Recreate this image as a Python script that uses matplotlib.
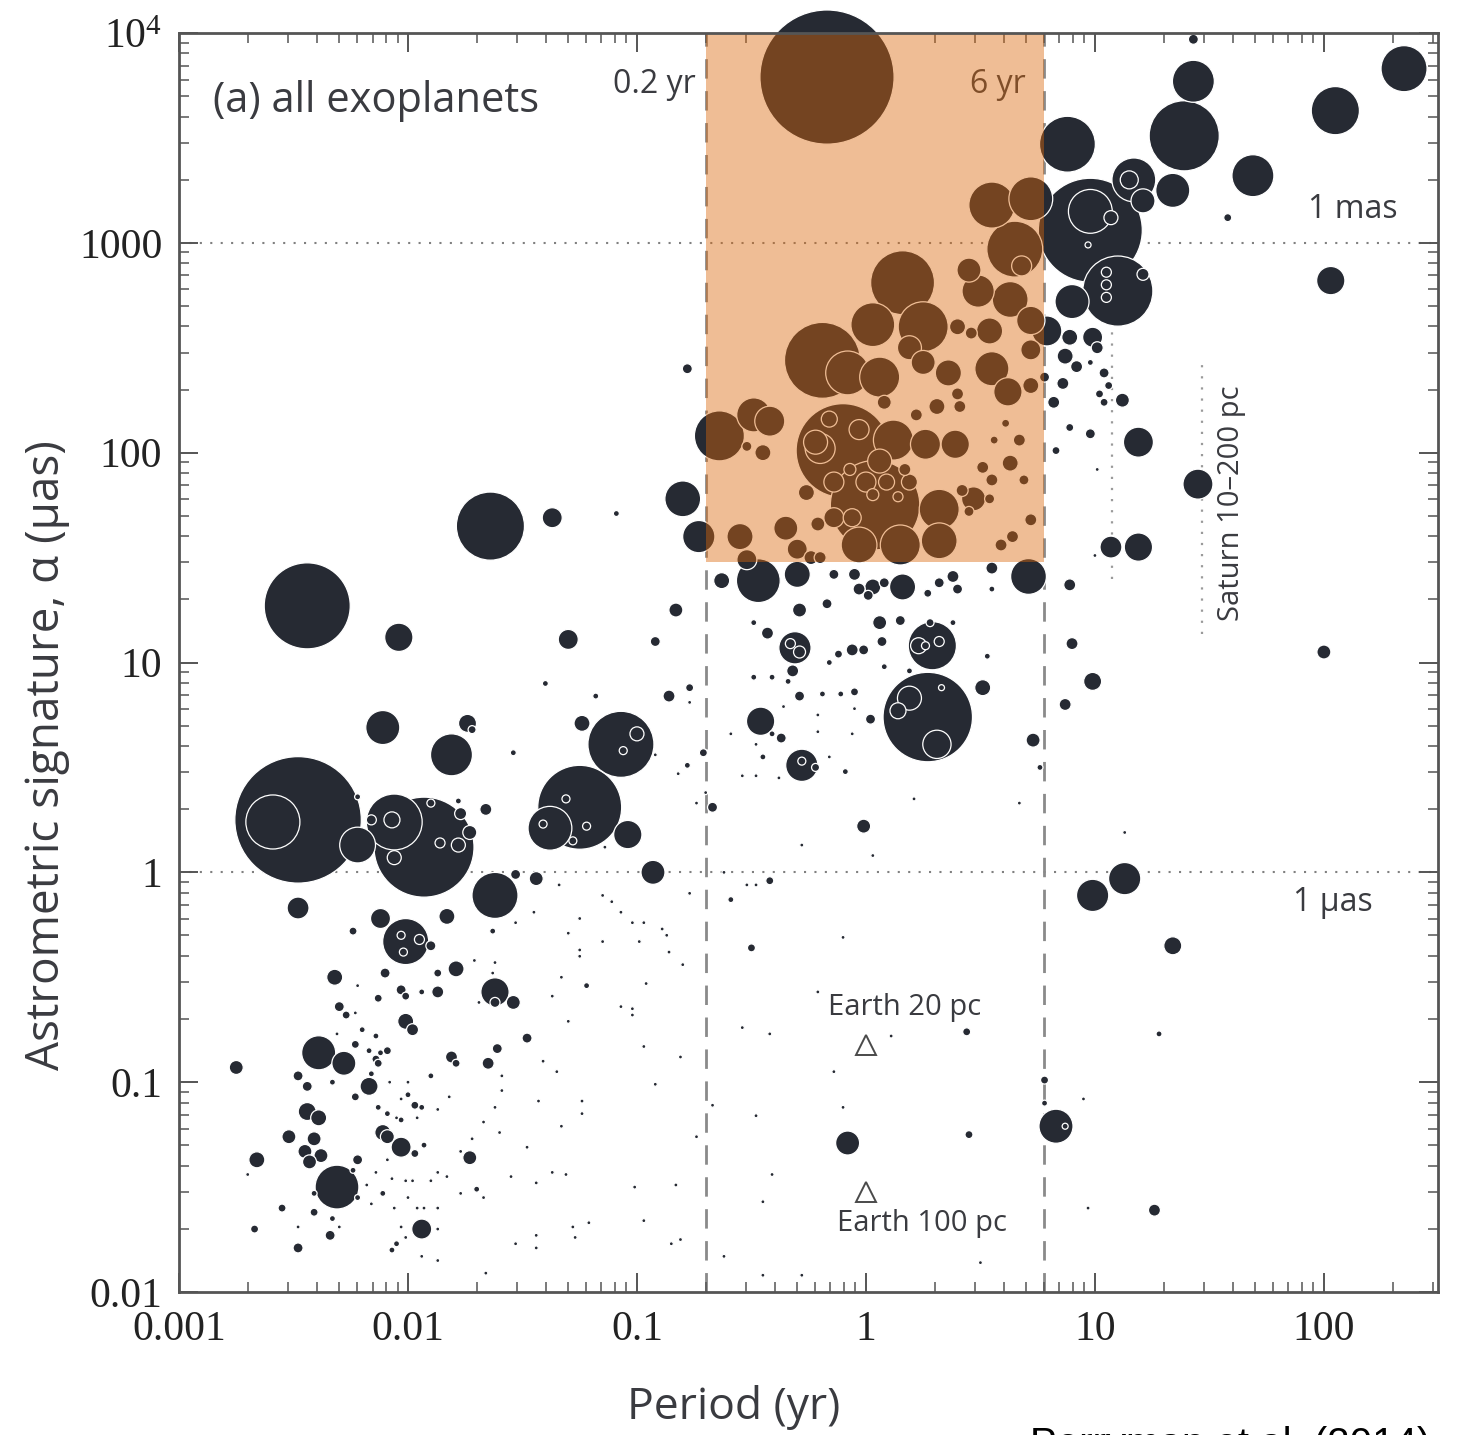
import numpy as np
import matplotlib.pyplot as plt
from matplotlib.patches import Rectangle
from matplotlib.ticker import FixedLocator, FixedFormatter, LogLocator, NullFormatter

plt.rcParams['mathtext.fontset'] = 'custom'
plt.rcParams['mathtext.rm'] = 'Liberation Serif'

# log10 period [yr], log10 astrometric signature [uas], planet mass [M_J]
# short-period planets (P < ~0.1 yr)
short_logp = [-2.48, -2.59, -2.44, -2.04, -1.64, -1.37, -1.30, -1.40, -1.18, -2.11,
              -1.74, -1.72, -1.81, -1.54, -1.24, -1.07, -1.00, -1.06, -2.22, -2.22,
              -2.06, -2.07, -2.16, -1.93, -2.06, -1.78, -1.77, -1.73, -1.78, -1.86,
              -1.90, -1.66, -1.25, -1.38, -1.31, -1.22, -1.28, -1.41, -1.04, -0.93,
              -2.48, -2.12, -2.01, -2.03, -1.95, -2.02, -1.90, -2.24, -1.62, -1.83,
              -1.53, -1.44, -1.34, -1.15, -1.45, -1.53, -1.63, -1.25, -1.30, -1.15,
              -1.25, -2.32, -2.10, -1.79, -1.87, -1.71, -1.62, -1.63, -2.22, -2.03,
              -2.01, -1.87, -2.13, -2.30, -2.27, -2.23, -1.94, -2.01, -1.98, -1.62,
              -1.62, -1.54, -1.69, -1.37, -1.48, -1.33, -1.30, -1.22, -1.25, -2.31,
              -2.20, -2.23, -2.14, -2.39, -2.28, -2.75, -2.48, -2.44, -2.33, -2.23,
              -2.17, -2.14, -2.17, -2.12, -2.13, -2.16, -2.09, -2.08, -2.00, -2.03,
              -1.97, -2.00, -1.94, -2.13, -2.09, -2.05, -2.03, -1.96, -1.87, -2.44,
              -2.39, -2.52, -2.41, -2.66, -2.45, -2.38, -2.43, -2.11, -2.09, -2.03,
              -1.97, -1.93, -2.09, -2.22, -2.70, -2.31, -2.24, -2.22, -2.41, -2.18,
              -2.14, -2.07, -2.01, -1.98, -1.90, -1.87, -1.83, -2.11, -2.16, -2.00,
              -1.96, -1.93, -2.06, -1.87, -2.55, -2.41, -2.67, -2.48, -2.48, -2.33,
              -2.34, -2.30, -1.94, -2.01, -2.05, -2.07, -1.94, -1.87, -2.03, -1.87,
              -1.41, -1.35, -1.43, -1.24, -1.24, -1.33, -1.48, -1.60, -1.59, -1.59,
              -1.62, -1.67, -1.72, -1.73, -1.77, -1.65, -1.61, -1.81, -1.79, -1.82,
              -1.90, -1.77, -1.70, -1.67, -1.55, -1.44, -1.37, -1.31, -1.53, -1.44,
              -1.44, -1.28, -1.27, -1.21, -1.66]
short_loga = [0.25, 0.24, 1.27, 1.12, 1.65, 1.69, 1.11, 0.90, 0.84, 0.69,
              0.71, 0.68, 0.56, 0.57, 0.71, 0.61, 0.66, 0.58, 0.13, 0.36,
              0.24, 0.25, 0.25, 0.12, 0.07, 0.34, 0.28, 0.19, 0.13, 0.14,
              0.33, 0.30, 0.31, 0.21, 0.35, 0.22, 0.15, 0.23, 0.18, 0.00,
              -0.17, -0.22, -0.33, -0.30, -0.32, -0.38, -0.35, -0.28, -0.11, -0.21,
              -0.01, -0.03, -0.06, -0.11, -0.19, -0.24, -0.28, -0.22, -0.29, -0.33,
              -0.40, -0.50, -0.48, -0.46, -0.48, -0.42, -0.43, -0.48, -0.54, -0.56,
              -0.59, -0.57, -0.60, -0.64, -0.68, -0.67, -0.57, -0.71, -0.75, -0.57,
              -0.62, -0.62, -0.62, -0.59, -0.79, -0.50, -0.71, -0.54, -0.37, -0.77,
              -0.75, -0.82, -0.78, -0.86, -0.91, -0.93, -0.97, -1.02, -1.00, -1.07,
              -1.02, -0.89, -0.85, -0.86, -0.91, -0.96, -0.85, -1.00, -1.00, -1.08,
              -1.11, -1.06, -1.12, -1.12, -1.15, -1.17, -1.18, -1.17, -1.13, -1.14,
              -1.17, -1.26, -1.27, -1.37, -1.33, -1.35, -1.38, -1.24, -1.26, -1.31,
              -1.34, -1.30, -1.37, -1.37, -1.44, -1.50, -1.42, -1.55, -1.53, -1.49,
              -1.43, -1.46, -1.47, -1.47, -1.47, -1.43, -1.45, -1.53, -1.58, -1.55,
              -1.60, -1.60, -1.60, -1.60, -1.60, -1.62, -1.70, -1.69, -1.79, -1.65,
              -1.73, -1.69, -1.70, -1.74, -1.77, -1.80, -1.83, -1.85, -1.69, -1.70,
              -0.90, -0.95, -1.09, -1.09, -1.15, -1.21, -1.31, -1.24, -1.04, -0.97,
              -1.12, -1.19, -1.27, -1.36, -1.33, -0.91, -0.84, -0.88, -0.91, -1.07,
              -0.97, -1.53, -1.51, -1.55, -1.45, -1.48, -1.43, -1.44, -1.77, -1.73,
              -1.79, -1.69, -1.74, -1.67, -1.91]
short_mass = [40, 7.3, 18.5, 2.0, 11.6, 1.0, 1.0, .09, .09, 2.9,
              .81, .16, 4.4, .09, .64, 10.9, .49, .16, 3.2, .09,
              7.8, .64, .25, 25, .49, .09, .36, .49, .49, .25,
              .16, .36, 17.6, 4.8, .16, .16, .16, .16, 2.0, 1.44,
              1.2, 1.0, 5.3, .16, .25, .16, .25, .16, 5.3, .64,
              .25, .49, .04, .04, .04, .04, .09, .04, .04, .04,
              .04, .64, .25, .64, .16, .04, .04, .04, .04, .25,
              .16, .36, .16, .25, .16, .04, .09, .64, .36, 2.0,
              .25, .49, .04, .04, .25, .04, .04, .09, .04, .04,
              .09, .16, .09, 2.9, 1.44, .49, .25, .25, .09, .16,
              .81, .16, .09, .09, .16, .09, .16, .04, .04, .04,
              .16, .09, .09, .09, .09, .04, .09, .04, .04, .81,
              .64, .49, .49, .64, .49, .49, .49, .64, .49, 1.0,
              .16, .09, .04, .25, .04, 4.8, .09, .09, .09, .04,
              .04, .04, .04, .04, .04, .04, .04, .09, .04, .04,
              .04, .04, .04, .04, .16, .16, .16, .04, .25, .09,
              .25, .04, 1.0, .04, .09, .09, .04, .04, .04, .04,
              .04, .04, .04, .04, .04, .04, .04, .04, .04, .04,
              .04, .04, .04, .49, .04, .36, .25, .36, .16, .04,
              .09, .04, .09, .04, .04, .04, .04, .04, .04, .04,
              .04, .04, .04, .04, .04]

# intermediate periods, outside the 0.2-6 yr / >30 uas window
mid_logp = [-1.11, -1.07, -1.02, -0.97, -0.89, -0.87, -0.86, -0.80, -0.77, -1.15,
            -0.99, -0.96, -1.07, -1.02, -1.02, -0.97, -0.81, -0.92, -0.74, -1.01,
            -0.83, -0.97, -0.85, -0.81, -1.09, -0.80, -0.73, -0.78, -0.83, -0.92,
            -0.86, -0.77, -0.77, -0.78, -0.82, -0.92, -0.71, -0.70, -0.74, -0.67,
            -1.14, -0.63, -0.47, -0.30, -0.14, 0.16, 0.03, -0.03, 0.08, 0.01,
            -0.05, 0.71, 0.32, 0.38, 0.40, 0.27, 0.55, 0.55, -0.29, -0.17,
            -0.49, -0.43, -0.31, -0.33, -0.29, 0.06, 0.15, 0.07, 0.28, 0.38,
            0.29, 0.23, 0.26, 0.32, -0.06, -0.01, -0.12, -0.16, -0.32, -0.49,
            -0.41, -0.34, 0.08, 0.19, 0.53, 0.51, 0.27, 0.19, 0.14, 0.31,
            0.33, -0.05, -0.19, -0.29, -0.11, -0.46, -0.37, -0.41, -0.36, -0.21,
            -0.05, 0.02, -0.21, -0.06, -0.59, -0.48, -0.28, -0.28, -0.22, -0.45,
            -0.16, -0.09, -0.54, -0.48, -0.38, 0.21, -0.01, -0.28, 0.03, 0.67,
            0.73, 0.76, -0.62, -0.52, -0.48, -0.42, -0.59, -0.50, -0.10, -0.21,
            -0.54, -0.42, 0.11, 0.44, -0.14, -0.67, -0.48, -0.10, -0.08, 0.45,
            -0.41, -0.45, -0.62, 0.50, -0.45, -0.28]
mid_loga = [-0.14, -0.19, -0.24, -0.24, -0.27, -0.30, -0.38, -0.44, -0.10, -0.33,
            -0.33, -0.53, -0.64, -0.65, -0.68, -0.83, -0.88, -1.01, -1.26, -1.50,
            -1.49, -1.66, -1.77, -1.75, 1.71, 1.78, 1.60, 2.40, 1.25, 1.10,
            0.84, 0.88, 0.81, 0.51, 0.47, 0.56, 0.57, 0.38, 0.33, 0.31,
            0.12, 1.39, 1.39, 1.42, 1.42, 1.36, 1.36, 1.35, 1.38, 1.32,
            1.42, 1.41, 1.38, 1.41, 1.35, 1.33, 1.35, 1.45, 1.25, 1.28,
            1.19, 1.14, 1.07, 1.09, 1.05, 1.19, 1.20, 1.10, 1.19, 1.19,
            1.08, 1.08, 1.08, 1.10, 1.06, 1.06, 1.04, 1.00, 0.96, 0.93,
            0.93, 0.91, 0.98, 0.96, 1.03, 0.88, 0.74, 0.83, 0.77, 0.61,
            0.88, 0.86, 0.85, 0.84, 0.85, 0.72, 0.64, 0.66, 0.79, 0.75,
            0.78, 0.73, 0.67, 0.66, 0.66, 0.61, 0.51, 0.53, 0.50, 0.55,
            0.55, 0.48, 0.46, 0.46, 0.45, 0.35, 0.22, 0.13, 0.08, 0.33,
            0.63, 0.50, 0.00, -0.06, -0.06, -0.04, -0.13, -0.36, -0.31, -0.57,
            -0.74, -0.77, -0.78, -0.76, -0.95, -1.11, -1.16, -1.12, -1.29, -1.25,
            -1.44, -1.57, -1.83, -1.86, -1.92, -1.92]
mid_mass = [.04, .04, .04, .04, .04, .04, .04, .04, .04, .04,
            .04, .04, .04, .04, .04, .04, .04, .04, .04, .04,
            .04, .04, .04, .04, .09, 3.2, 2.6, .25, .49, .25,
            .36, .16, .04, .09, .04, .04, .16, .04, .04, .25,
            .04, .64, 4.8, 1.7, .25, 1.7, .64, .36, .25, .25,
            .36, 3.2, .25, .36, .25, .16, .09, .36, .49, .25,
            .09, .36, 2.6, .25, .36, .49, .25, .25, .16, .09,
            5.8, .64, .16, .25, .36, .25, .16, .09, .36, .09,
            .09, .09, .09, .09, .09, .64, 20, 1.44, .64, 2.0,
            .09, .16, .09, .25, .09, 2.0, .25, .09, .04, .04,
            .04, .25, .04, .04, .04, .04, 2.6, .16, .16, .09,
            .04, .09, .04, .04, .04, .04, .49, .04, .04, .04,
            .49, .09, .04, .04, .04, .16, .09, .16, .04, .04,
            .04, .04, .04, .16, .04, .04, .04, .04, 1.44, .16,
            .04, .04, .04, .04, .04, .04]

# inside the 0.2-6 yr window above 30 uas
box_logp = [-0.17, 0.55, 0.72, 0.65, 0.68, 0.16, 0.45, 0.49, 0.63, 0.72,
            -0.19, 0.03, 0.25, -0.64, -0.49, -0.42, -0.55, -0.35, -0.21, -0.52,
            -0.08, 0.06, 0.19, 0.25, 0.36, 0.40, 0.46, 0.54, 0.55, 0.62,
            0.08, 0.40, 0.41, 0.31, 0.22, 0.61, 0.56, -0.22, -0.52, -0.45,
            -0.20, -0.14, -0.26, -0.30, -0.24, -0.20, -0.14, -0.06, 0.00, 0.09,
            0.03, 0.14, 0.19, 0.32, 0.32, 0.47, 0.51, 0.55, 0.54, 0.42,
            0.45, 0.63, 0.64, 0.72, 0.59, 0.69, 0.67, -0.10, 0.04, 0.15,
            -0.03, 0.12, 0.26, -0.16, -0.03, -0.07, 0.06, 0.17, 0.39, 0.72,
            0.72]
box_loga = [3.79, 3.18, 3.21, 2.97, 2.89, 2.81, 2.87, 2.77, 2.73, 2.63,
            2.44, 2.61, 2.60, 2.08, 2.18, 2.15, 1.60, 1.64, 1.66, 1.49,
            2.38, 2.36, 2.50, 2.43, 2.38, 2.60, 2.57, 2.58, 2.40, 2.29,
            2.24, 2.28, 2.22, 2.22, 2.18, 2.14, 2.06, 2.05, 2.03, 2.00,
            2.02, 1.86, 1.81, 1.54, 1.50, 1.50, 1.69, 1.69, 1.86, 1.86,
            1.80, 1.79, 1.86, 1.73, 1.58, 1.78, 1.93, 1.87, 1.78, 1.82,
            1.72, 1.95, 1.60, 1.68, 1.56, 1.87, 2.06, 2.01, 1.75, 1.56,
            1.56, 2.06, 2.04, 2.16, 2.11, 1.92, 1.96, 1.92, 2.04, 2.49,
            2.32]
box_mass = [45, 5.3, 4.8, 7.8, 1.0, 10.2, 1.44, 2.6, 3.2, 2.0,
            14.4, 4.8, 6.25, 6.25, 2.9, 2.25, 1.7, 1.44, .49, 1.0,
            4.8, 4.0, 1.44, 1.44, 1.7, .64, .36, 1.7, 2.9, 2.0,
            .49, .36, .36, .64, .36, .16, .16, 1.44, .25, .64,
            2.25, 1.0, .64, 1.0, .49, .36, 1.0, .81, 1.0, .64,
            .36, .25, .64, 4.0, 3.2, 1.44, .36, .36, .25, .36,
            .25, .64, .36, .36, .36, .25, .36, 22, 20, 4.0,
            3.2, 4.0, 2.25, .64, 1.0, .36, 1.44, .36, 2.0, 1.0,
            .64]

# long-period planets (P > 6 yr)
long_logp = [1.43, 1.43, 1.39, 2.35, 2.05, 1.69, 1.34, 1.21, 1.17, 1.15,
             1.58, 2.03, 0.88, 0.98, 0.98, 1.07, 0.97, 1.10, 1.05, 1.05,
             1.05, 1.21, 0.90, 0.79, 0.89, 0.99, 1.01, 0.87, 0.92, 0.98,
             1.04, 1.06, 0.86, 0.78, 0.82, 1.02, 1.04, 1.12, 0.89, 0.98,
             1.19, 0.83, 1.45, 1.01, 1.07, 1.19, 1.00, 0.89, 0.90, 0.99,
             0.87, 1.13, 2.00, 0.99, 1.13, 1.34, 1.28, 0.78, 0.78, 0.95,
             0.83, 1.26, 0.97, 0.87]
long_loga = [3.97, 3.77, 3.51, 3.83, 3.63, 3.32, 3.25, 3.20, 3.30, 3.30,
             3.12, 2.82, 3.47, 3.06, 3.15, 3.12, 2.99, 2.77, 2.86, 2.80,
             2.74, 2.85, 2.72, 2.58, 2.55, 2.55, 2.50, 2.46, 2.41, 2.43,
             2.38, 2.32, 2.33, 2.36, 2.24, 2.28, 2.24, 2.25, 2.12, 2.09,
             2.05, 2.01, 1.85, 1.92, 1.55, 1.55, 1.51, 1.37, 1.09, 0.91,
             0.80, 0.19, 1.05, -0.11, -0.03, -0.35, -0.77, -0.99, -1.10, -1.08,
             -1.21, -1.61, -1.60, -1.21]
long_mass = [.25, 4.4, 12.3, 5.3, 5.8, 4.4, 2.9, 1.44, 4.8, .81,
             .16, 2.0, 7.8, 27, 4.8, .49, .09, 12.3, .25, .25,
             .25, .36, 2.9, 2.25, .64, 1.0, .36, .64, .36, .09,
             .25, .16, .36, .25, .36, .16, .16, .49, .16, .25,
             2.25, .16, 2.25, .04, 1.2, 2.0, .04, .36, .36, .81,
             .36, .04, .49, 2.6, 2.6, .81, .09, .16, .09, .04,
             2.9, .36, .04, .09]

x_ticks = [1e-3, 1e-2, 1e-1, 1, 10, 100]
x_labels = ['0.001', '0.01', '0.1', '1', '10', '100']
y_ticks = [1e-2, 1e-1, 1, 10, 100, 1000, 1e4]
y_labels = ['0.01', '0.1', '1', '10', '100', '1000', r'$\mathregular{10^4}$']

logp = np.concatenate([short_logp, mid_logp, box_logp, long_logp])
loga = np.concatenate([short_loga, mid_loga, box_loga, long_loga])
mass = np.concatenate([short_mass, mid_mass, box_mass, long_mass])
assert len(logp) == len(loga) == len(mass)

period = 10 ** logp
alpha = 10 ** loga
# bubble area proportional to mass; biggest first so small ones sit on top
order = np.argsort(-mass, kind='stable')
dpi = 100
size = (2 * 10 * np.sqrt(mass) * 72 / dpi) ** 2

ink = '#262a33'
txt = '#3a3b40'
sans = 'Open Sans'

fig = plt.figure(figsize=(14.57, 14.35), dpi=dpi)
ax = fig.add_axes([179 / 1457, 1 - 1292 / 1435, 1259 / 1457, 1259 / 1435])
ax.set_xscale('log')
ax.set_yscale('log')
ax.set_xlim(1e-3, 315)
ax.set_ylim(1e-2, 1e4)

# reference lines
for yv in (1000, 1):
    ax.axhline(yv, color='#808080', lw=1.5, ls=(0, (1, 4)), zorder=1)
for xv in (0.2, 6):
    ax.axvline(xv, color='#8a8a8a', lw=2, ls=(0, (7, 4.5)), zorder=1)
ax.plot([11.86, 11.86], [24.9, 497], color='#9a9a9a', lw=1.6, ls=(0, (1, 4)), zorder=1)
ax.plot([29.46, 29.46], [13.7, 274], color='#9a9a9a', lw=1.6, ls=(0, (1, 4)), zorder=1)

ax.scatter(period[order], alpha[order], s=size[order], c=ink,
           edgecolors='white', linewidths=0.9, zorder=3, clip_on=False)

# Earth at 20 and 100 pc
ax.plot([1, 1], [0.15, 0.03], ls='none', marker='^', ms=15, mfc='none',
        mec='#4a4a4a', mew=1.4, zorder=3)

ax.text(0.18, 5700, '0.2 yr', ha='right', va='center', fontsize=23, family=sans, color=txt, zorder=2)
ax.text(5.0, 5700, '6 yr', ha='right', va='center', fontsize=23, family=sans, color=txt, zorder=2)
ax.text(0.027, 0.946, '(a) all exoplanets', transform=ax.transAxes, ha='left', va='center',
        fontsize=30, family=sans, color=txt)
ax.text(210, 1435, '1 mas', ha='right', va='center', fontsize=23, family=sans, color=txt)
ax.text(164, 0.72, '1 µas', ha='right', va='center', fontsize=23, family=sans, color=txt)
ax.text(1.48, 0.226, 'Earth 20 pc', ha='center', va='center', fontsize=21, family=sans, color=txt)
ax.text(1.76, 0.0211, 'Earth 100 pc', ha='center', va='center', fontsize=21, family=sans, color=txt)
ax.text(39.6, 57.7, 'Saturn 10–200 pc', rotation=90, ha='center', va='center',
        fontsize=21, family=sans, color=txt)

# 0.2-6 yr, >30 uas window
ax.add_patch(Rectangle((0.2, 30), 6 - 0.2, 1e4 - 30, facecolor='#dc680b',
                       alpha=0.43, lw=0, zorder=4))

ax.xaxis.set_major_locator(FixedLocator(x_ticks))
ax.xaxis.set_major_formatter(FixedFormatter(x_labels))
ax.yaxis.set_major_locator(FixedLocator(y_ticks))
ax.yaxis.set_major_formatter(FixedFormatter(y_labels))
for axis in (ax.xaxis, ax.yaxis):
    axis.set_minor_locator(LogLocator(base=10, subs=np.arange(2, 10), numticks=20))
    axis.set_minor_formatter(NullFormatter())

ax.tick_params(which='both', direction='in', top=True, right=True, color='#555555')
ax.tick_params(which='major', length=14, width=1.4)
ax.tick_params(which='minor', length=7, width=1.1)
ax.tick_params(axis='x', pad=13)
ax.tick_params(axis='y', pad=12)
for lab in ax.get_xticklabels() + ax.get_yticklabels():
    lab.set_family('Liberation Serif')
    lab.set_fontsize(30)
    lab.set_color('#222222')
for sp in ax.spines.values():
    sp.set_color('#555555')
    sp.set_linewidth(2)
    sp.set_zorder(5)

fig.text(734 / 1457, 1 - 1407 / 1435, 'Period (yr)', ha='center', va='center',
         fontsize=32, family=sans, color=txt)
fig.text(47 / 1457, 1 - 755 / 1435, 'Astrometric signature, α (µas)', rotation=90,
         ha='center', va='center', fontsize=33, family=sans, color=txt)
# source line along the lower edge, mostly below the frame
fig.text(1030 / 1457, 1 - 1426 / 1435, 'Perryman et al. (2014)', ha='left', va='top',
         fontsize=29, family='Liberation Sans', color='black')

fig.savefig('out.png', dpi=dpi)
